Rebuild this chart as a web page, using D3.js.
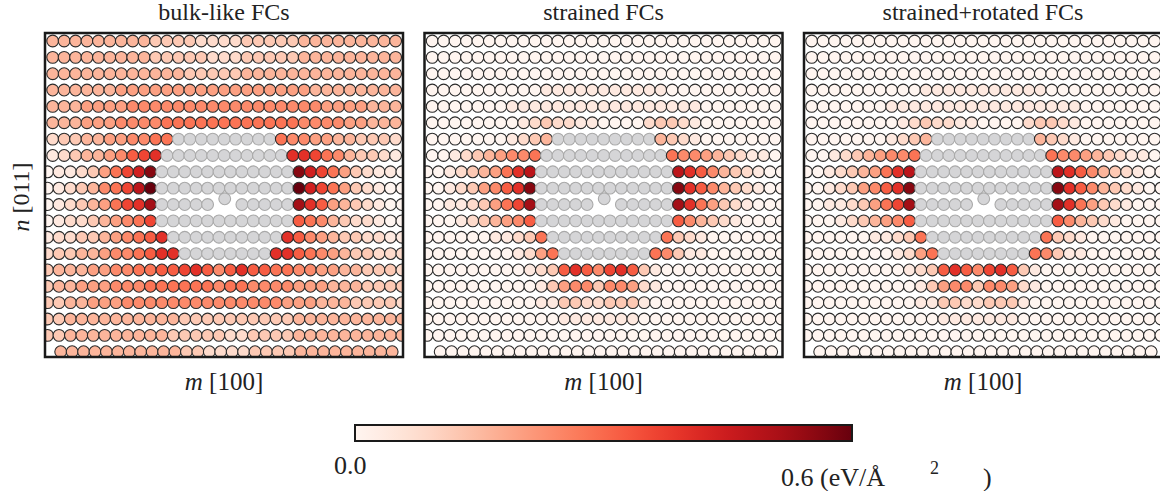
<!DOCTYPE html>
<html>
<head>
<meta charset="utf-8">
<script src="https://cdn.jsdelivr.net/npm/d3@7"></script>
<style>
  body { margin: 0; background: #fff; }
  text { font-family: "Liberation Serif", "Times New Roman", serif; fill: #222; }
</style>
</head>
<body>
<svg id="chart" width="1160" height="491"></svg>
<script>
// panel titles
const titles = ['bulk-like FCs', 'strained FCs', 'strained+rotated FCs'];

// m offset of the first site of every row (lattice units); rows 8-18 carry the extra half plane
const rowOffset = [0, 0, 0, 0, 0, 0, 0, 0,
  -0.45, -0.45, -0.45, -0.45, -0.45, -0.45, -0.45, -0.45, -0.45, -0.45, -0.45, 0.7];

// one character per atom: 0-f = stress level in steps of 0.04 eV/A^2, g = core atom (grey),
// r = displaced core atom, . = empty site
const bulkRows = [
  '4444444443333222233333444444444',
  '4444444443333322233333444444444',
  '4444444444443333344444444444444',
  '4444445555555555555555544444444',
  '4445555666666666666666665555444',
  '4445556666777777777777666655444',
  '23344556677' + 'ggggggggg' + '76655443332',
  '123445689a' + 'ggggggggggg' + 'aa97643321',
  '01123579be' + 'gggggggggggg' + 'eb97532110',
  '01234679cf' + 'gggggggggggg' + 'fb97532100',
  '01234579ad' + 'gggggr.ggggg' + 'da85432100',
  '0122345679' + 'gggggggggggg' + '8764322100',
  '1223345678a' + 'gggggggggg' + 'a8654332211',
  '2334456678aa' + 'gggggggg' + 'aa8765433222',
  '3444556677889a868a88776655443332',
  '34455566677777767766665554443333',
  '33445556666666666666655544433332',
  '33444444444433333333334444444444',
  '33444444444333332233334444444444',
  '444444444443322223333444444444'
];

const strainedRows = [
  '0000000000' + '0000000000' + '00000000000',
  '0000000000' + '0000000000' + '00000000000',
  '0000000000' + '0000000000' + '00000000000',
  '0000000000' + '11111111111' + '0000000000',
  '0000000' + '11111111111111111' + '0000000',
  '00000000' + '1232211' + '0000' + '23321' + '0000000',
  '0000000' + '1234' + 'ggggggggg' + '4321' + '0000000',
  '0012345667' + 'ggggggggggg' + '7665432110',
  '00123457ac' + 'gggggggggggg' + 'ca86432100',
  '00123568ae' + 'gggggggggggg' + 'ea86432100',
  '001123579d' + 'gggggr.ggggg' + 'da75321000',
  '0001234568' + 'gggggggggggg' + '8643210000',
  '00000011237' + 'gggggggggg' + '73210000000',
  '000000001257' + 'gggggggg' + '763110000000',
  '0000000001' + '238a869a83' + '1' + '00000000000',
  '0000000000' + '1' + '356636652' + '1' + '00000000000',
  '0000000000' + '1133223331' + '000000000000',
  '000000000000' + '1111111' + '0000000000000',
  '0000000000' + '0000000000' + '000000000000',
  '0000000000' + '0000000000' + '0000000000'
];

const rotatedRows = [
  '0000000000' + '0000000000' + '00000000000',
  '0000000000' + '0000000000' + '00000000000',
  '0000000000' + '0000000000' + '00000000000',
  '0000000000' + '11111111111' + '0000000000',
  '0000000' + '11111111111111111' + '0000000',
  '00000000' + '1232211' + '0000' + '23321' + '0000000',
  '0000000' + '1234' + 'ggggggggg' + '4321' + '0000000',
  '0012345667' + 'ggggggggggg' + '7665432110',
  '00123457ac' + 'gggggggggggg' + 'ca86432100',
  '00123568ae' + 'gggggggggggg' + 'ea86432100',
  '001123579d' + 'gggggr.ggggg' + 'da75321000',
  '0001234568' + 'gggggggggggg' + '8643210000',
  '00000011237' + 'gggggggggg' + '73210000000',
  '000000001257' + 'gggggggg' + '763110000000',
  '0000000001' + '238a869a83' + '1' + '00000000000',
  '0000000000' + '1' + '356636652' + '1' + '00000000000',
  '0000000000' + '1133223331' + '000000000000',
  '000000000000' + '1111111' + '0000000000000',
  '0000000000' + '0000000000' + '000000000000',
  '0000000000' + '0000000000' + '0000000000'
];

// the displaced core atom (shift in lattice units)
const coreShift = { dm: 0.5, dn: -0.35 };

const levelStep = 0.04;
const colorDomain = [0, 0.6];

const svg = d3.select('#chart');
const defs = svg.append('defs');

const panelLeft = [45, 424.5, 804];
const panelTop = 33;
const panelW = 358;
const panelH = 324;

const color = d3.scaleSequential(d3.interpolateReds).domain(colorDomain);
const y = d3.scaleLinear().domain([0, 19]).range([41, 351.7]);

[bulkRows, strainedRows, rotatedRows].forEach((rows, p) => {
  const x0 = panelLeft[p];
  const x = d3.scaleLinear().domain([0, 30]).range([x0 + 7.7, x0 + 350.6]);

  defs.append('clipPath')
    .attr('id', `clip${p}`)
    .append('rect')
    .attr('x', x0)
    .attr('y', panelTop)
    .attr('width', panelW)
    .attr('height', panelH);

  const atoms = [];
  rows.forEach((row, n) => {
    [...row].forEach((ch, k) => {
      if (ch === '.') return;
      const moved = ch === 'r';
      atoms.push({
        m: k + rowOffset[n] + (moved ? coreShift.dm : 0),
        n: n + (moved ? coreShift.dn : 0),
        core: ch === 'g' || ch === 'r',
        value: parseInt(ch, 16) * levelStep,
      });
    });
  });

  const g = svg.append('g').attr('clip-path', `url(#clip${p})`);

  g.selectAll('circle')
    .data(atoms)
    .join('circle')
    .attr('cx', (d) => x(d.m))
    .attr('cy', (d) => y(d.n))
    .attr('r', 5.9)
    .attr('fill', (d) => (d.core ? '#d5d5d7' : color(d.value)))
    .attr('stroke', (d) => (d.core ? '#a9a9a9' : '#2b2b2b'))
    .attr('stroke-width', 1.1);

  svg.append('rect')
    .attr('x', x0)
    .attr('y', panelTop)
    .attr('width', panelW)
    .attr('height', panelH)
    .attr('fill', 'none')
    .attr('stroke', '#1a1a1a')
    .attr('stroke-width', 2.5);

  svg.append('text')
    .attr('x', x0 + panelW / 2)
    .attr('y', 20)
    .attr('text-anchor', 'middle')
    .attr('font-size', 24)
    .text(titles[p]);

  const xl = svg.append('text')
    .attr('x', x0 + panelW / 2)
    .attr('y', 390)
    .attr('text-anchor', 'middle')
    .attr('font-size', 25);
  xl.append('tspan').attr('font-style', 'italic').text('m');
  xl.append('tspan').text(' [100]');
});

// y label
const yl = svg.append('text')
  .attr('transform', 'translate(29, 197) rotate(-90)')
  .attr('text-anchor', 'middle')
  .attr('font-size', 24);
yl.append('tspan').attr('font-style', 'italic').text('n');
yl.append('tspan').text(' [011]');

// colour bar
const cbX = d3.scaleLinear().domain(colorDomain).range([355, 852]);
const grad = defs.append('linearGradient').attr('id', 'cbar');
d3.range(0, 1.0001, 0.05).forEach((t) => {
  grad.append('stop')
    .attr('offset', `${t * 100}%`)
    .attr('stop-color', color(colorDomain[0] + t * (colorDomain[1] - colorDomain[0])));
});

svg.append('rect')
  .attr('x', cbX(0))
  .attr('y', 425)
  .attr('width', cbX(0.6) - cbX(0))
  .attr('height', 16)
  .attr('fill', 'url(#cbar)')
  .attr('stroke', '#1a1a1a')
  .attr('stroke-width', 2);

svg.append('text')
  .attr('x', 334)
  .attr('y', 474)
  .attr('font-size', 26)
  .text('0.0');

const unit = svg.append('text')
  .attr('y', 486)
  .attr('font-size', 26);
unit.append('tspan').attr('x', 781).text('0.6 (eV/Å');
unit.append('tspan').attr('x', 930).attr('dy', -12).attr('font-size', 18).text('2');
unit.append('tspan').attr('x', 983).attr('dy', 12).text(')');
</script>
</body>
</html>
